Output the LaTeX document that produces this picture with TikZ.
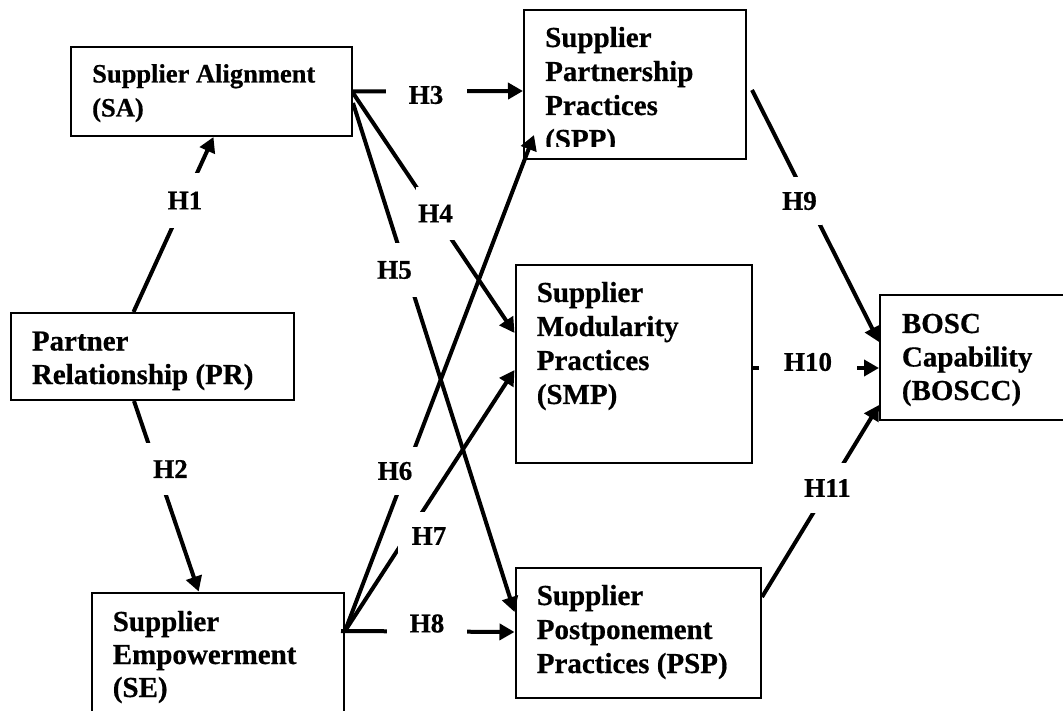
\documentclass[tikz,border=0pt]{standalone}
\usepackage{fontspec}
\setmainfont{Liberation Serif}[BoldFeatures={FakeBold=0.6}]
\usetikzlibrary{arrows.meta}
% left-aligned stack of lines whose baseline is the first line
\newcommand{\lineset}[1]{\begin{tabular}[t]{@{}l@{}}#1\end{tabular}}

\begin{document}
\begin{tikzpicture}[x=1pt,y=-1pt,
  box/.style={draw,rectangle,line width=2pt,inner sep=0pt},
  txt/.style={anchor=base west,inner sep=0pt,font=\fontsize{29}{34}\selectfont\bfseries},
  link/.style={line width=4pt,-{Triangle[length=15pt,width=16pt]}},
  hyp/.style={fill=white,inner sep=0pt,font=\fontsize{27}{30}\selectfont\bfseries},
]
\useasboundingbox (0,0) rectangle (1063,711);
\clip (0,0) rectangle (1063,711);

% constructs
\node[box,minimum width=281pt,minimum height=89pt]    (sa)   at (211.5,91.5)   {};
\node[box,minimum width=283pt,minimum height=87pt]    (pr)   at (152.5,356.5)  {};
\node[box,minimum width=252pt,minimum height=167.5pt] (se)   at (218,676.25)   {};
\node[box,minimum width=222pt,minimum height=149pt]   (spp)  at (635,84.5)     {};
\node[box,minimum width=236.5pt,minimum height=198pt] (smp)  at (633.75,364)   {};
\node[box,minimum width=245.5pt,minimum height=130.5pt] (psp) at (638.25,632.75) {};
\node[box,minimum width=220pt,minimum height=125pt]   (bosc) at (990,357.5)    {};

% construct names
\node[txt,font=\fontsize{26.5}{34}\selectfont\bfseries] (sa-t) at (92,82.5)
  {\lineset{Supplier Alignment\\(SA)}};
\node[txt,font=\fontsize{29}{33.5}\selectfont\bfseries] (pr-t) at (31.7,350.5)
  {\lineset{Partner\\Relationship (PR)}};
\node[txt,font=\fontsize{29}{33}\selectfont\bfseries] (se-t) at (112.6,631)
  {\lineset{Supplier\\Empowerment\\(SE)}};
\begin{scope}
  \clip (524,10) rectangle (746,147);
  \node[txt] (spp-t) at (545,47) {\lineset{Supplier\\Partnership\\Practices\\(SPP)}};
\end{scope}
\node[txt] (smp-t) at (536.6,302) {\lineset{Supplier\\Modularity\\Practices\\(SMP)}};
\node[txt] (psp-t) at (536.6,605) {\lineset{Supplier\\Postponement\\Practices (PSP)}};
\node[txt,font=\fontsize{29}{33.5}\selectfont\bfseries] (bosc-t) at (901.7,333)
  {\lineset{BOSC\\Capability\\(BOSCC)}};

% hypothesised paths
\draw[link] ([xshift=-19pt]pr.north) -- ([xshift=2pt]sa.south);
\draw[link] ([xshift=-18.5pt]pr.south) -- ([xshift=-19.3pt]se.north);
\draw[link] (sa.east) -- ([yshift=-6.5pt]spp.west);
\draw[link] ([yshift=-1.5pt]sa.east) -- ([yshift=31pt]smp.west);
\draw[link] ([yshift=-11.5pt]sa.east) -- ([yshift=20.75pt]psp.west);
\draw[link] ([yshift=-39.5pt]se.north east) -- ([xshift=11pt,yshift=25pt]spp.south west);
\draw[link] ([yshift=-39.5pt]se.north east) -- ([yshift=-6pt]smp.west);
\draw[link] ([xshift=-4pt,yshift=-39.5pt]se.north east) -- ([yshift=0.75pt]psp.west);
\draw[link] ([xshift=5pt,yshift=-5.5pt]spp.east) -- ([yshift=15.5pt]bosc.west);
\draw[link] ([yshift=-4pt]smp.east) -- ([yshift=-10.5pt]bosc.west);
\draw[link] ([yshift=35.75pt]psp.east) -- ([yshift=-47.5pt]bosc.west);

% hypothesis labels, set on white so they break the paths
\node[hyp,minimum width=40pt,minimum height=55pt] (h1)  at (185,200.5)   {H1};
\node[hyp,minimum width=50pt,minimum height=52pt] (h2)  at (170.5,469)   {H2};
\node[hyp,minimum width=81pt,minimum height=30pt] (h3)  at (426,95)      {H3};
\node[hyp,minimum width=40pt,minimum height=53pt] (h4)  at (435.5,213.5) {H4};
\node[hyp,minimum width=45pt,minimum height=54pt] (h5)  at (394.5,270)   {H5};
\node[hyp,minimum width=46pt,minimum height=48pt] (h6)  at (395,471)     {H6};
\node[hyp,minimum width=62pt,minimum height=48pt] (h7)  at (429,536)     {H7};
\node[hyp,minimum width=80pt,minimum height=37pt] (h8)  at (427,623.5)   {H8};
\node[hyp,minimum width=45pt,minimum height=48pt] (h9)  at (799.5,201)   {H9};
\node[hyp,minimum width=98pt,minimum height=32pt] (h10) at (808,362)     {H10};
\node[hyp,minimum width=49pt,minimum height=50pt] (h11) at (827.5,488)   {H11};
\end{tikzpicture}
\end{document}
